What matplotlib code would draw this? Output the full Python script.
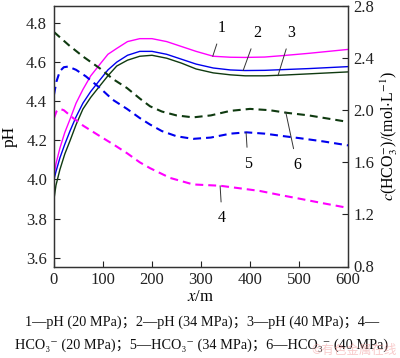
import matplotlib
matplotlib.use("Agg")
import matplotlib.pyplot as plt

plt.rcParams['font.family'] = ['Liberation Serif', 'DejaVu Serif', 'Noto Sans CJK SC']
plt.rcParams['mathtext.fontset'] = 'stix'

# ---- data ----
ph_x = [0, 4, 12, 22, 33, 45, 59, 75, 94, 110, 128, 150, 175, 200, 230, 260, 290,
        325, 360, 390, 430, 470, 520, 560, 600]
ph_20 = [4.02, 4.08, 4.16, 4.24, 4.31, 4.39, 4.46, 4.53, 4.59, 4.64, 4.67, 4.705, 4.72,
         4.72, 4.705, 4.68, 4.655, 4.63, 4.625, 4.624, 4.626, 4.634, 4.645, 4.655, 4.665]
ph_34 = [4.00, 4.04, 4.11, 4.18, 4.25, 4.32, 4.39, 4.45, 4.51, 4.56, 4.60, 4.635, 4.655,
         4.655, 4.64, 4.615, 4.59, 4.57, 4.56, 4.557, 4.558, 4.562, 4.567, 4.572, 4.577]
ph_40 = [3.90, 3.97, 4.05, 4.13, 4.20, 4.28, 4.36, 4.42, 4.48, 4.53, 4.58, 4.61, 4.63,
         4.635, 4.62, 4.595, 4.565, 4.545, 4.535, 4.53, 4.53, 4.534, 4.54, 4.545, 4.55]

hco3_20_x = [0, 5, 12, 20, 39, 60, 94, 120, 149, 175, 196, 237, 284, 339, 380, 420,
             460, 502, 550, 600]
hco3_20 = [1.94, 1.99, 2.01, 2.00, 1.94, 1.88, 1.80, 1.74, 1.67, 1.60, 1.555, 1.48,
           1.43, 1.42, 1.40, 1.38, 1.35, 1.32, 1.285, 1.25]

hco3_34_x = [0, 5, 12, 20, 29, 45, 65, 94, 120, 149, 175, 196, 220, 250, 284, 320,
             360, 393, 430, 470, 502, 550, 600]
hco3_34 = [2.12, 2.22, 2.30, 2.33, 2.335, 2.31, 2.26, 2.17, 2.08, 2.01, 1.94, 1.89,
           1.84, 1.80, 1.78, 1.79, 1.82, 1.83, 1.82, 1.80, 1.785, 1.76, 1.73]

hco3_40_x = [0, 30, 60, 94, 120, 149, 175, 196, 220, 250, 284, 320, 360, 400, 440,
             475, 520, 560, 600]
hco3_40 = [2.60, 2.50, 2.41, 2.32, 2.24, 2.17, 2.09, 2.03, 1.99, 1.96, 1.945, 1.96,
           1.995, 2.01, 2.00, 1.98, 1.96, 1.935, 1.91]

x_ticks = [0, 100, 200, 300, 400, 500, 600]
ph_ticks = [3.6, 3.8, 4.0, 4.2, 4.4, 4.6, 4.8]
c_ticks = [0.8, 1.2, 1.6, 2.0, 2.4, 2.8]

caption1 = "1—pH (20 MPa)；2—pH (34 MPa)；3—pH (40 MPa)；4—"
caption2 = "HCO₃⁻ (20 MPa)；5—HCO₃⁻ (34 MPa)；6—HCO₃⁻ (40 MPa)"

MAG = '#ff00ff'
BLU = '#0000ee'
GRN = '#0f3a10'

fig = plt.figure(figsize=(4.0, 3.58), dpi=100)
ax = fig.add_axes([54/400, 1-266.5/358, 294/400, 260.5/358])
ax2 = ax.twinx()

ax.plot(ph_x, ph_20, color=MAG, lw=1.0)
ax.plot(ph_x, ph_34, color=BLU, lw=1.0)
ax.plot(ph_x, ph_40, color=GRN, lw=1.0)

for xs, ys, col in [(hco3_20_x, hco3_20, MAG), (hco3_34_x, hco3_34, BLU),
                    (hco3_40_x, hco3_40, GRN)]:
    ln, = ax2.plot(xs, ys, color=col, lw=1.5)
    ln.set_dashes((3.8, 2.4))

ax.set_xlim(0, 600)
ax.set_ylim(3.555, 4.887)
ax2.set_ylim(0.8, 2.8)
ax.set_xticks(x_ticks)
ax.set_yticks(ph_ticks)
ax.set_yticklabels([f"{v:.1f}" for v in ph_ticks])
ax2.set_yticks(c_ticks)
ax2.set_yticklabels([f"{v:.1f}" for v in c_ticks])

for a in (ax, ax2):
    a.tick_params(direction='in', length=4, width=0.8, labelsize=12, colors='#222222')
    for s in a.spines.values():
        s.set_color('#333333')
        s.set_linewidth(0.9)
ax.tick_params(axis='x', pad=4)
ax.tick_params(axis='y', pad=5)
ax2.tick_params(axis='y', pad=4)

ax.set_xlabel("$x$/m", fontsize=12, labelpad=1)
ax.set_ylabel("pH", fontsize=12.5, labelpad=6)
ax2.set_ylabel("$c$(HCO$_3^{-}$)/(mol$\\cdot$L$^{-1}$)", fontsize=11.5, labelpad=3)

lab_kw = dict(fontsize=11.5, ha='center', va='center',
              arrowprops=dict(arrowstyle='-', color='#333333', lw=0.7, shrinkA=4, shrinkB=0))
ax.annotate("1", xy=(324, 4.63), xytext=(343, 4.775), **lab_kw)
ax.annotate("2", xy=(386, 4.557), xytext=(414, 4.75), **lab_kw)
ax.annotate("3", xy=(457, 4.53), xytext=(484, 4.75), **lab_kw)
ax2.annotate("4", xy=(339, 1.42), xytext=(343, 1.17), **lab_kw)
ax2.annotate("5", xy=(392, 1.83), xytext=(396, 1.59), **lab_kw)
ax2.annotate("6", xy=(473, 1.985), xytext=(496, 1.58), **lab_kw)

fig.text(0.505, 1-322/358, caption1, fontsize=10.3, ha='center', va='center', color='#111111')
fig.text(0.505, 1-345/358, caption2, fontsize=10.3, ha='center', va='center', color='#111111')
fig.text(0.885, 1-350/358, "©有色金属在线", fontsize=9, ha='center', va='center',
         color='#f2a0a0', alpha=0.55, family=['Noto Sans CJK SC'])

fig.savefig("out.png", dpi=100)
